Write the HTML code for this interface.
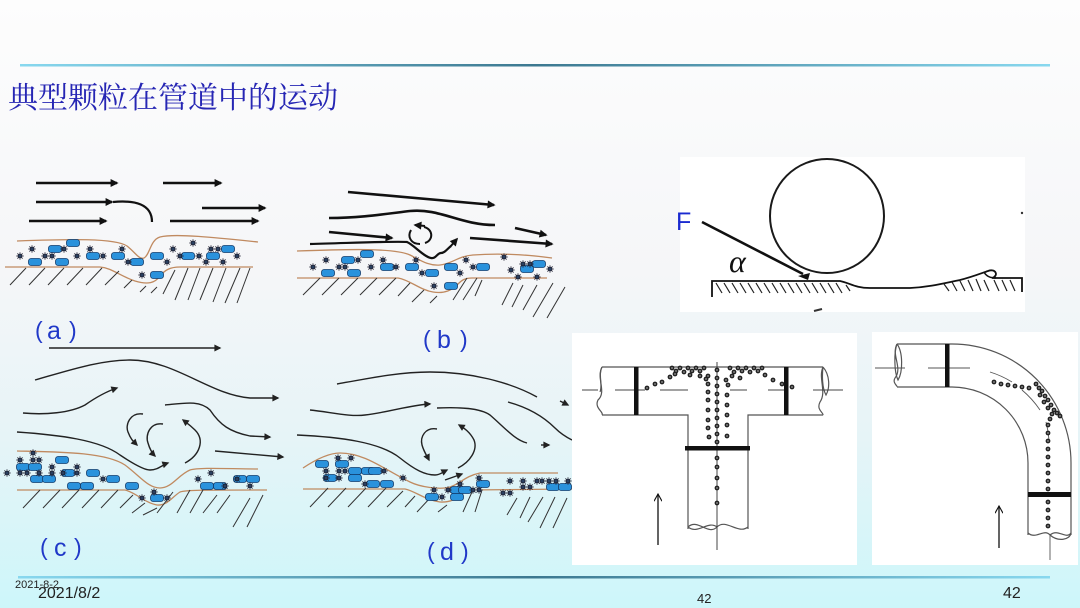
<!DOCTYPE html>
<html><head><meta charset="utf-8">
<style>
html,body{margin:0;padding:0;width:1080px;height:608px;overflow:hidden;background:#f5f6f8;}
svg{display:block}
</style></head><body>
<svg width="1080" height="608" viewBox="0 0 1080 608" xmlns="http://www.w3.org/2000/svg">
<defs>
<linearGradient id="bg" x1="0" y1="0" x2="0" y2="1">
<stop offset="0" stop-color="#fdfdfd"/>
<stop offset="0.45" stop-color="#f5f6f8"/>
<stop offset="0.72" stop-color="#e6f4f7"/>
<stop offset="1" stop-color="#cdf6fa"/>
</linearGradient>
<linearGradient id="ln" x1="0" y1="0" x2="1" y2="0">
<stop offset="0" stop-color="#88d8ef"/>
<stop offset="0.5" stop-color="#3c7890"/>
<stop offset="1" stop-color="#88d8ef"/>
</linearGradient>
<marker id="ah" viewBox="0 0 10 10" refX="8" refY="5" markerWidth="10" markerHeight="8" markerUnits="userSpaceOnUse" orient="auto"><path d="M0,0 L10,5 L0,10 z" fill="#111"/></marker>
<marker id="at" viewBox="0 0 10 10" refX="8" refY="5" markerWidth="9" markerHeight="7" markerUnits="userSpaceOnUse" orient="auto"><path d="M0,0 L10,5 L0,10 z" fill="#222"/></marker>
<marker id="ao" viewBox="0 0 10 10" refX="9" refY="5" markerWidth="10" markerHeight="8" markerUnits="userSpaceOnUse" orient="auto"><path d="M0,0 L9,5 L0,10" fill="none" stroke="#111" stroke-width="1.4"/></marker>
<g id="pl"><rect x="-6.5" y="-3.5" width="13" height="7" rx="2.6" fill="#2a92dc" stroke="#123c6c" stroke-width="0.8"/></g>
<g id="st"><path d="M-3.6,0H3.6M0,-3.6V3.6M-2.6,-2.6L2.6,2.6M-2.6,2.6L2.6,-2.6" stroke="#223" stroke-width="0.9"/><circle r="1.9" fill="#2a4060" stroke="#112" stroke-width="0.5"/></g>
<g id="d"><circle r="2.4" fill="#222"/><circle r="0.9" fill="#999"/></g>
</defs>

<rect x="0" y="0" width="1080" height="608" fill="url(#bg)"/>

<!-- header line -->
<rect x="20" y="64" width="1030" height="2.5" fill="url(#ln)"/>
<text x="8" y="108" font-family="'Noto Serif CJK SC','Noto Sans CJK SC',serif" font-size="30" fill="#2626b4">典型颗粒在管道中的运动</text>

<!-- ========== Panel (a) ========== -->
<g stroke="#111" stroke-width="2.6" fill="none">
<path d="M36,183H117" marker-end="url(#ah)"/>
<path d="M163,183H221" marker-end="url(#ah)"/>
<path d="M36,202H112" marker-end="url(#ah)"/>
<path d="M113,202 C135,200 152,204 152,222" stroke-width="2.2"/>
<path d="M29,221H106" marker-end="url(#ah)"/>
<path d="M202,208H265" marker-end="url(#ah)"/>
<path d="M170,221H258" marker-end="url(#ah)"/>
</g>
<g stroke="#c08a60" stroke-width="1.3" fill="none">
<path d="M17,241 C70,239 115,238 127,246 C135,252 139,260 144,258 C150,255 150,240 160,237 C175,233 220,238 258,242"/>
<path d="M5,267 L100,267 C112,268 120,276 135,281 C148,285 155,283 160,276 C165,270 170,267 180,267 L253,267"/>
</g>
<g stroke="#333" stroke-width="1">
<path d="M10,285L26,268M29,285L45,268M48,285L64,268M67,285L83,268M86,285L102,268M105,285L119,271M124,288L132,280M140,292L146,286M151,293L157,287M163,294L175,270M175,300L188,268M188,300L200,268M200,300L213,268M213,302L226,268M225,303L240,268M237,303L250,268"/>
</g>
<g>
<use href="#pl" x="73" y="243"/><use href="#pl" x="55" y="249"/><use href="#pl" x="35" y="262"/><use href="#pl" x="62" y="262"/><use href="#pl" x="93" y="256"/><use href="#pl" x="118" y="256"/><use href="#pl" x="137" y="262"/><use href="#pl" x="157" y="256"/><use href="#pl" x="157" y="275"/><use href="#pl" x="188" y="256"/><use href="#pl" x="213" y="256"/><use href="#pl" x="228" y="249"/>
<use href="#st" x="20" y="256"/><use href="#st" x="32" y="249"/><use href="#st" x="45" y="256"/><use href="#st" x="52" y="256"/><use href="#st" x="64" y="249"/><use href="#st" x="77" y="256"/><use href="#st" x="90" y="249"/><use href="#st" x="103" y="256"/><use href="#st" x="122" y="249"/><use href="#st" x="128" y="262"/><use href="#st" x="142" y="275"/><use href="#st" x="167" y="262"/><use href="#st" x="173" y="249"/><use href="#st" x="180" y="256"/><use href="#st" x="193" y="243"/><use href="#st" x="199" y="256"/><use href="#st" x="206" y="262"/><use href="#st" x="211" y="249"/><use href="#st" x="218" y="249"/><use href="#st" x="223" y="262"/><use href="#st" x="237" y="256"/>
</g>
<text font-family="'Liberation Sans',sans-serif" font-size="25" fill="#2038c8"><tspan x="35" y="338" font-size="23">(</tspan><tspan x="47" y="339">a</tspan><tspan x="69" y="338" font-size="23">)</tspan></text>

<!-- ========== Panel (b) ========== -->
<g stroke="#111" stroke-width="2.6" fill="none">
<path d="M348,192 L494,205" marker-end="url(#ah)"/>
<path d="M329,218 C360,218 385,214 410,211 C440,208 460,225 495,225"/>
<path d="M329,232 L392,238" marker-end="url(#ah)"/>
<path d="M310,244 C350,243 395,241 407,242 C414,245 424,257 431,258 C436,259 437,253 441,253 C445,253 447,249 451,246" stroke-width="2.2"/>
<path d="M450,247 L457,239" stroke-width="2" marker-end="url(#ah)"/>
<path d="M424,227 C433,229 434,240 425,243" stroke-width="2"/>
<path d="M425,226 L415,225" stroke-width="2" marker-end="url(#ah)"/>
<path d="M411,230 C407,237 411,244 420,244" stroke-width="2"/>
<path d="M515,228 L546,235" marker-end="url(#ah)"/>
<path d="M470,238 L552,244" marker-end="url(#ah)"/>
</g>
<g stroke="#c08a60" stroke-width="1.3" fill="none">
<path d="M297,251 C350,249 395,248 410,255 C420,260 428,266 440,265 C452,264 458,256 473,255 C500,253 530,255 552,258"/>
<path d="M297,278 L398,278 C410,280 420,290 433,292 C445,294 452,290 458,284 C462,280 465,278 472,278 L547,278"/>
</g>
<g stroke="#333" stroke-width="1">
<path d="M303,295L320,278M322,295L339,278M341,295L358,278M360,295L377,278M379,295L396,278M398,296L410,283M412,302L424,290M430,303L437,296M453,300L467,278M463,300L477,278M475,296L482,280M502,305L513,283M512,307L523,285M523,310L537,285M533,317L553,283M547,318L565,287"/>
</g>
<g>
<use href="#pl" x="367" y="254"/><use href="#pl" x="348" y="260"/><use href="#pl" x="328" y="273"/><use href="#pl" x="354" y="273"/><use href="#pl" x="387" y="267"/><use href="#pl" x="412" y="267"/><use href="#pl" x="432" y="273"/><use href="#pl" x="451" y="267"/><use href="#pl" x="451" y="286"/><use href="#pl" x="483" y="267"/><use href="#pl" x="527" y="269"/><use href="#pl" x="539" y="264"/>
<use href="#st" x="313" y="267"/><use href="#st" x="326" y="260"/><use href="#st" x="339" y="267"/><use href="#st" x="345" y="267"/><use href="#st" x="358" y="260"/><use href="#st" x="371" y="267"/><use href="#st" x="383" y="260"/><use href="#st" x="396" y="267"/><use href="#st" x="416" y="260"/><use href="#st" x="422" y="273"/><use href="#st" x="434" y="286"/><use href="#st" x="460" y="273"/><use href="#st" x="466" y="260"/><use href="#st" x="473" y="267"/><use href="#st" x="504" y="257"/><use href="#st" x="511" y="270"/><use href="#st" x="523" y="264"/><use href="#st" x="530" y="264"/><use href="#st" x="518" y="277"/><use href="#st" x="537" y="277"/><use href="#st" x="550" y="269"/>
</g>
<text font-family="'Liberation Sans',sans-serif" font-size="25" fill="#2038c8"><tspan x="423" y="347" font-size="23">(</tspan><tspan x="437" y="348">b</tspan><tspan x="460" y="347" font-size="23">)</tspan></text>

<!-- ========== Panel (c) ========== -->
<g stroke="#222" stroke-width="1.4" fill="none">
<path d="M49,348 H220" marker-end="url(#at)"/>
<path d="M35,380 C70,370 100,360 130,360 C175,360 210,395 250,398 L278,398" marker-end="url(#at)"/>
<path d="M23,413 C45,415 70,413 85,405 C95,398 105,392 117,388" marker-end="url(#at)"/>
<path d="M17,432 C60,435 100,440 120,455 C135,465 145,470 150,470 C158,470 162,465 168,463" marker-end="url(#at)"/>
<path d="M165,405 C185,403 200,400 210,410 C220,425 230,432 250,436 L270,437" marker-end="url(#at)"/>
<path d="M215,451 L283,457" marker-end="url(#at)"/>
<path d="M143,414 C130,412 125,425 128,432 C131,440 134,442 137,445" marker-end="url(#at)"/>
<path d="M163,424 C150,422 145,435 148,443 C150,450 152,453 155,456" marker-end="url(#at)"/>
<path d="M185,463 C200,455 205,440 195,430 C190,425 187,423 183,420" marker-end="url(#at)"/>
</g>
<g stroke="#c08a60" stroke-width="1.3" fill="none">
<path d="M17,451 C60,452 105,452 125,465 C140,476 148,488 160,488 C172,488 178,475 190,470 C200,467 230,469 258,469"/>
<path d="M17,490 L125,490 C135,492 145,503 157,505 C167,506 172,497 180,492 C185,490 200,490 267,490"/>
</g>
<g stroke="#333" stroke-width="1">
<path d="M23,508L40,490M43,508L60,490M62,508L79,490M82,508L99,490M101,508L118,490M120,508L133,495M132,513L145,503M143,515L157,508M157,513L173,492M177,513L190,490M190,513L203,490M203,513L217,495M217,513L230,495M233,527L250,498M247,527L263,495"/>
</g>
<g>
<use href="#pl" x="23" y="467"/><use href="#pl" x="35" y="467"/><use href="#pl" x="62" y="460"/><use href="#pl" x="37" y="479"/><use href="#pl" x="49" y="479"/><use href="#pl" x="68" y="473"/><use href="#pl" x="93" y="473"/><use href="#pl" x="113" y="479"/><use href="#pl" x="74" y="486"/><use href="#pl" x="87" y="486"/><use href="#pl" x="132" y="486"/><use href="#pl" x="157" y="498"/><use href="#pl" x="207" y="486"/><use href="#pl" x="220" y="486"/><use href="#pl" x="240" y="479"/><use href="#pl" x="253" y="479"/>
<use href="#st" x="7" y="473"/><use href="#st" x="20" y="460"/><use href="#st" x="20" y="473"/><use href="#st" x="33" y="453"/><use href="#st" x="33" y="460"/><use href="#st" x="39" y="460"/><use href="#st" x="27" y="473"/><use href="#st" x="39" y="473"/><use href="#st" x="52" y="467"/><use href="#st" x="52" y="473"/><use href="#st" x="77" y="467"/><use href="#st" x="77" y="473"/><use href="#st" x="63" y="473"/><use href="#st" x="103" y="479"/><use href="#st" x="154" y="492"/><use href="#st" x="142" y="498"/><use href="#st" x="167" y="498"/><use href="#st" x="198" y="479"/><use href="#st" x="211" y="473"/><use href="#st" x="250" y="486"/><use href="#st" x="225" y="486"/><use href="#st" x="237" y="479"/>
</g>
<text font-family="'Liberation Sans',sans-serif" font-size="25" fill="#2038c8"><tspan x="40" y="555" font-size="23">(</tspan><tspan x="54" y="556">c</tspan><tspan x="74" y="555" font-size="23">)</tspan></text>

<!-- ========== Panel (d) ========== -->
<g stroke="#222" stroke-width="1.4" fill="none">
<path d="M337,384 C370,378 400,372 430,372 C470,372 510,382 537,397"/>
<path d="M310,410 C330,412 350,417 365,415 C390,412 410,405 430,404" marker-end="url(#at)"/>
<path d="M437,408 C460,407 480,408 490,415 C505,428 515,440 527,443"/>
<path d="M508,402 C530,408 545,418 555,428 C562,435 568,438 572,440"/>
<path d="M560,401 L568,405" marker-end="url(#at)"/>
<path d="M541,445 L549,445" marker-end="url(#at)"/>
<path d="M297,435 C340,437 380,442 400,458 C415,470 425,475 435,475 C440,475 443,472 447,470" marker-end="url(#at)"/>
<path d="M437,429 C425,427 420,437 422,445 C424,452 427,456 429,460" marker-end="url(#at)"/>
<path d="M458,468 C470,462 478,450 474,440 C470,432 464,428 459,425" marker-end="url(#at)"/>
<path d="M445,480 L462,474" marker-end="url(#at)"/>
</g>
<g stroke="#c08a60" stroke-width="1.3" fill="none">
<path d="M303,468 C315,460 328,453 340,453 C365,453 385,470 410,482 C420,487 440,490 450,487 C460,484 465,476 480,473 L558,473"/>
<path d="M303,489 L405,489 C415,491 425,500 440,502 C455,503 460,494 468,490 L572,489"/>
</g>
<g stroke="#333" stroke-width="1">
<path d="M310,507L328,488M328,507L346,488M348,507L366,488M368,507L386,488M387,507L403,491M405,507L415,496M417,512L430,498M438,512L447,505M463,512L472,492M475,512L482,490M507,515L517,498M520,518L530,497M528,522L543,497M540,528L555,497M553,528L567,498"/>
</g>
<g>
<use href="#pl" x="322" y="464"/><use href="#pl" x="342" y="464"/><use href="#pl" x="330" y="478"/><use href="#pl" x="355" y="471"/><use href="#pl" x="355" y="478"/><use href="#pl" x="368" y="471"/><use href="#pl" x="375" y="471"/><use href="#pl" x="373" y="484"/><use href="#pl" x="387" y="484"/><use href="#pl" x="432" y="497"/><use href="#pl" x="457" y="490"/><use href="#pl" x="457" y="497"/><use href="#pl" x="465" y="490"/><use href="#pl" x="483" y="484"/><use href="#pl" x="553" y="487"/><use href="#pl" x="565" y="487"/>
<use href="#st" x="338" y="458"/><use href="#st" x="351" y="458"/><use href="#st" x="326" y="471"/><use href="#st" x="326" y="478"/><use href="#st" x="339" y="471"/><use href="#st" x="345" y="471"/><use href="#st" x="339" y="478"/><use href="#st" x="384" y="471"/><use href="#st" x="365" y="484"/><use href="#st" x="403" y="478"/><use href="#st" x="434" y="490"/><use href="#st" x="442" y="497"/><use href="#st" x="448" y="490"/><use href="#st" x="460" y="484"/><use href="#st" x="473" y="490"/><use href="#st" x="479" y="478"/><use href="#st" x="479" y="490"/><use href="#st" x="503" y="493"/><use href="#st" x="510" y="493"/><use href="#st" x="510" y="481"/><use href="#st" x="523" y="481"/><use href="#st" x="523" y="487"/><use href="#st" x="530" y="487"/><use href="#st" x="537" y="481"/><use href="#st" x="542" y="481"/><use href="#st" x="549" y="481"/><use href="#st" x="556" y="481"/><use href="#st" x="568" y="481"/>
</g>
<text font-family="'Liberation Sans',sans-serif" font-size="25" fill="#2038c8"><tspan x="427" y="559" font-size="23">(</tspan><tspan x="440" y="560">d</tspan><tspan x="461" y="559" font-size="23">)</tspan></text>

<!-- ========== Top-right: particle on wall ========== -->
<rect x="680" y="157" width="345" height="155" fill="#ffffff"/>
<circle cx="827" cy="216" r="57" fill="none" stroke="#1a1a1a" stroke-width="2"/>
<path d="M702,222 L803,274" stroke="#111" stroke-width="2.6" fill="none"/>
<path d="M798,276 L810,273 L808,280 Z" fill="#111"/>
<text x="676" y="230" font-family="'Liberation Sans',sans-serif" font-size="25" fill="#1a2ad0">F</text>
<text x="729" y="272" font-family="'Liberation Serif',serif" font-style="italic" font-size="32" fill="#111">α</text>
<path d="M712,297 L712,281 L840,281 C850,283 855,288 870,288 L910,288 C930,287 945,283 960,280 C972,277 982,273 988,271 C996,268 999,276 992,278 L1022,278 L1022,292" fill="none" stroke="#111" stroke-width="1.8"/>
<path d="M984,272 C986,276 990,278 996,278" fill="none" stroke="#111" stroke-width="1.4"/>
<g stroke="#222" stroke-width="1.2">
<path d="M716,283L722,293M724,283L730,293M732,283L738,293M740,283L746,293M748,283L754,293M756,283L762,293M764,283L770,293M772,283L778,293M780,283L786,293M788,283L794,293M796,283L802,293M804,283L810,293M812,283L818,293M820,283L826,293M828,283L834,293M836,283L842,293M846,285L850,291M944,284L949,291M952,282L957,291M960,281L965,291M968,280L973,291M976,279L981,291M984,280L989,291M994,280L999,291M1002,280L1007,291M1010,280L1015,291"/>
</g>
<circle cx="1022" cy="213" r="1.2" fill="#333"/>
<path d="M814,311 L822,309" stroke="#333" stroke-width="2"/>

<!-- ========== Bottom-middle: T pipe ========== -->
<rect x="572" y="333" width="285" height="232" fill="#ffffff"/>
<g fill="none" stroke="#555" stroke-width="1.2">
<path d="M602,367 L823,367"/>
<path d="M602,415 L688,415 L688,529"/>
<path d="M823,415 L748,415 L748,529"/>
<path d="M602,367 C596,378 607,392 598,400 C594,408 604,412 602,415"/>
<path d="M602,367 C598,375 603,385 600,392"/>
<path d="M823,367 C818,378 827,392 820,402 C816,410 824,413 823,415"/>
<path d="M823,367 C830,375 830,388 826,395 C822,388 822,375 823,367"/>
<path d="M688,527 C698,518 708,536 717,527 C726,518 738,535 748,527"/>
<path d="M688,527 C698,535 708,520 717,527"/>
</g>
<g stroke="#444" stroke-width="1">
<path d="M582,390H598M615,390H645M660,390H688M730,390H747M768,390H785M813,390H843"/>
<path d="M717,362V550"/>
</g>
<rect x="634" y="367" width="4.5" height="48" fill="#111"/>
<rect x="784" y="367" width="4.5" height="48" fill="#111"/>
<rect x="685" y="446" width="65" height="4.5" fill="#111"/>
<path d="M658,545 L658,494" stroke="#111" stroke-width="1.3" marker-end="url(#ao)"/>
<g>
<use href="#d" x="717" y="370"/><use href="#d" x="717" y="378"/><use href="#d" x="717" y="386"/><use href="#d" x="717" y="394"/><use href="#d" x="717" y="402"/><use href="#d" x="717" y="410"/><use href="#d" x="717" y="418"/><use href="#d" x="717" y="426"/><use href="#d" x="717" y="434"/><use href="#d" x="717" y="442"/><use href="#d" x="717" y="458"/><use href="#d" x="717" y="467"/><use href="#d" x="717" y="478"/><use href="#d" x="717" y="488"/><use href="#d" x="717" y="503"/>
<use href="#d" x="708" y="376"/><use href="#d" x="708" y="384"/><use href="#d" x="708" y="392"/><use href="#d" x="708" y="400"/><use href="#d" x="708" y="410"/><use href="#d" x="708" y="420"/><use href="#d" x="708" y="428"/><use href="#d" x="709" y="437"/>
<use href="#d" x="728" y="385"/><use href="#d" x="727" y="395"/><use href="#d" x="727" y="405"/><use href="#d" x="727" y="415"/><use href="#d" x="727" y="425"/><use href="#d" x="727" y="436"/>
<use href="#d" x="672" y="368"/><use href="#d" x="676" y="371"/><use href="#d" x="680" y="368"/><use href="#d" x="684" y="372"/><use href="#d" x="688" y="368"/><use href="#d" x="692" y="371"/><use href="#d" x="696" y="368"/><use href="#d" x="700" y="371"/><use href="#d" x="704" y="368"/><use href="#d" x="675" y="374"/><use href="#d" x="690" y="375"/><use href="#d" x="700" y="376"/><use href="#d" x="706" y="379"/>
<use href="#d" x="647" y="388"/><use href="#d" x="655" y="384"/><use href="#d" x="662" y="382"/><use href="#d" x="670" y="377"/>
<use href="#d" x="730" y="368"/><use href="#d" x="734" y="372"/><use href="#d" x="738" y="368"/><use href="#d" x="742" y="371"/><use href="#d" x="746" y="368"/><use href="#d" x="750" y="372"/><use href="#d" x="754" y="368"/><use href="#d" x="758" y="371"/><use href="#d" x="762" y="368"/><use href="#d" x="732" y="376"/><use href="#d" x="740" y="378"/><use href="#d" x="726" y="380"/>
<use href="#d" x="765" y="375"/><use href="#d" x="773" y="380"/><use href="#d" x="782" y="384"/><use href="#d" x="792" y="387"/>
</g>

<!-- ========== Bottom-right: bend ========== -->
<rect x="872" y="332" width="206" height="233" fill="#ffffff"/>
<g fill="none" stroke="#555" stroke-width="1.2">
<path d="M897,344 L952,344 A119,119 0 0 1 1071,463 L1071,535"/>
<path d="M897,387 L952,387 A76,76 0 0 1 1028,463 L1028,535"/>
<path d="M897,344 C891,355 903,368 895,378 C892,383 898,386 897,387"/>
<path d="M897,344 C903,352 903,372 898,380 C894,372 894,352 897,344"/>
<path d="M1028,533 C1036,540 1044,528 1050,535 C1058,528 1066,540 1071,533"/>
<path d="M1050,535 C1058,542 1070,540 1071,533"/>
</g>
<g stroke="#555" stroke-width="0.9" fill="none">
<path d="M875,368H905M928,368H970"/>
<path d="M990,372 A97,97 0 0 1 1012,382" />
<path d="M1022,390 A97,97 0 0 1 1040,410"/>
<path d="M1046,422 A97,97 0 0 1 1049,440"/>
<path d="M1050,535V560"/>
</g>
<rect x="945" y="344" width="4.5" height="43" fill="#111"/>
<rect x="1028" y="492" width="43" height="5" fill="#111"/>
<path d="M999,548 L999,506" stroke="#111" stroke-width="1.3" marker-end="url(#ao)"/>
<g>
<use href="#d" x="994" y="382"/><use href="#d" x="1001" y="384"/><use href="#d" x="1008" y="385"/><use href="#d" x="1015" y="386"/><use href="#d" x="1022" y="387"/><use href="#d" x="1029" y="388"/>
<use href="#d" x="1036" y="384"/><use href="#d" x="1039" y="388"/><use href="#d" x="1042" y="391"/><use href="#d" x="1040" y="395"/><use href="#d" x="1045" y="396"/><use href="#d" x="1048" y="400"/><use href="#d" x="1044" y="402"/><use href="#d" x="1051" y="405"/><use href="#d" x="1048" y="408"/><use href="#d" x="1054" y="410"/><use href="#d" x="1057" y="413"/><use href="#d" x="1052" y="414"/><use href="#d" x="1060" y="416"/><use href="#d" x="1050" y="419"/>
<use href="#d" x="1048" y="425"/><use href="#d" x="1048" y="433"/><use href="#d" x="1048" y="441"/><use href="#d" x="1048" y="449"/><use href="#d" x="1048" y="457"/><use href="#d" x="1048" y="465"/><use href="#d" x="1048" y="473"/><use href="#d" x="1048" y="481"/><use href="#d" x="1048" y="489"/><use href="#d" x="1048" y="502"/><use href="#d" x="1048" y="510"/><use href="#d" x="1048" y="518"/><use href="#d" x="1048" y="526"/>
</g>

<!-- footer -->
<rect x="18" y="576" width="1032" height="2.5" fill="url(#ln)"/>
<text x="15" y="588" font-family="'Liberation Sans Narrow','Liberation Sans',sans-serif" font-size="11" fill="#222">2021-8-2</text>
<text x="38" y="598" font-family="'Liberation Sans Narrow','Liberation Sans',sans-serif" font-size="16" fill="#222">2021/8/2</text>
<text x="697" y="603" font-family="'Liberation Sans Narrow','Liberation Sans',sans-serif" font-size="13" fill="#222">42</text>
<text x="1003" y="598" font-family="'Liberation Sans Narrow','Liberation Sans',sans-serif" font-size="16" fill="#222">42</text>
</svg>
</body></html>
